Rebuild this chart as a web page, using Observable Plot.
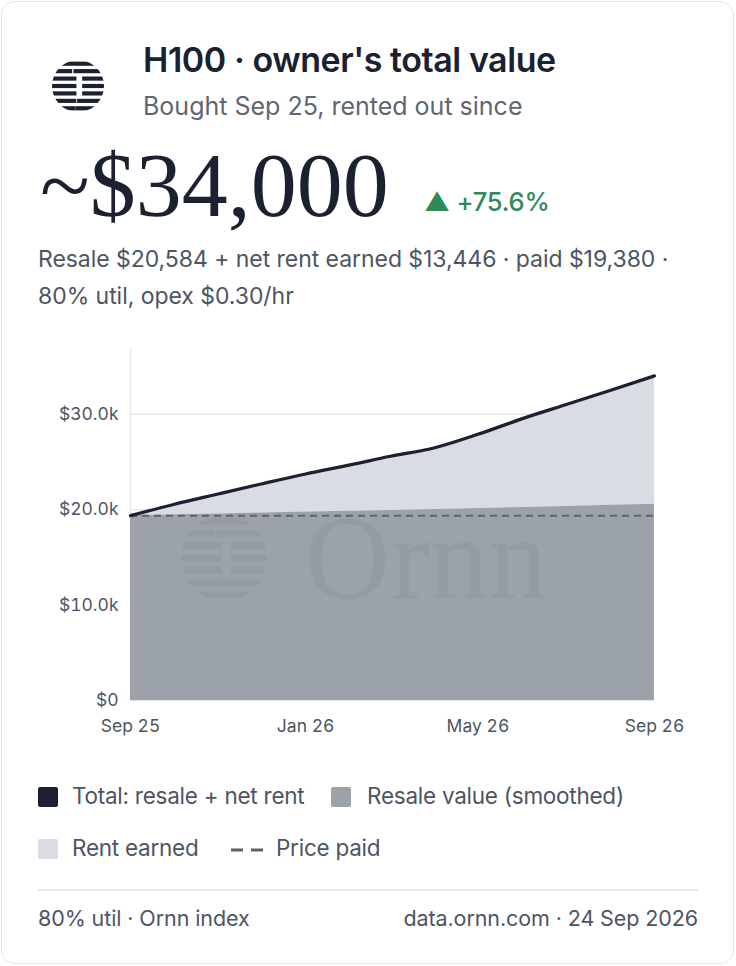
<!DOCTYPE html>
<html>
<head>
<meta charset="utf-8">
<script src="https://cdn.jsdelivr.net/npm/d3@7"></script>
<script src="https://cdn.jsdelivr.net/npm/@observablehq/plot@0.6"></script>
<style>
  html, body { margin: 0; padding: 0; background: #fff; }
  body { width: 736px; height: 966px; position: relative; overflow: hidden; font-family: Inter, "Noto Sans", sans-serif; }
  .card { position: absolute; left: 1px; top: 1px; width: 731px; height: 961px; border: 1.5px solid #e3e5ea; border-radius: 14px; box-sizing: content-box; }
  .abs { position: absolute; white-space: nowrap; }
  #logo { left: 50px; top: 58px; }
  #title { left: 143px; top: 39px; font-size: 34px; font-weight: 600; color: #1b2130; letter-spacing: -0.45px; }
  #subtitle { left: 143px; top: 91px; font-size: 25px; color: #5f6672; letter-spacing: 0px; }
  #big { left: 40px; top: 135px; font-family: "Liberation Serif", "DejaVu Serif", serif; font-size: 92px; color: #1b2130; line-height: 1.1; }
  #delta { left: 424px; top: 186px; font-size: 25.5px; color: #2f8a57; font-weight: 500; letter-spacing: -0.2px; }
  #detail { left: 38px; top: 241px; font-size: 23px; line-height: 37px; color: #4d5562; letter-spacing: -0.05px; }
  #chart { left: 0; top: 330px; }
  #wm { left: 0; top: 330px; width: 736px; height: 410px; pointer-events: none; }
  .legend { font-size: 22.5px; color: #4d5562; letter-spacing: -0.25px; }
  .sw { position: absolute; width: 20px; height: 20px; border-radius: 2px; }
  #rule { left: 38px; top: 889px; width: 660px; height: 2px; background: #e5e7eb; }
  .foot { top: 905px; font-size: 21.5px; color: #4d5562; letter-spacing: -0.1px; }
</style>
</head>
<body>
<div class="card"></div>

<svg id="logo" class="abs" width="56" height="56" viewBox="0 0 56 56"></svg>
<div id="title" class="abs">H100 · owner's total value</div>
<div id="subtitle" class="abs">Bought Sep 25, rented out since</div>
<div id="big" class="abs">~$34,000</div>
<div id="delta" class="abs">▲ +75.6%</div>
<div id="detail" class="abs">Resale $20,584 + net rent earned $13,446 · paid $19,380 ·<br>80% util, opex $0.30/hr</div>

<div id="chart" class="abs"></div>

<div class="sw" style="left:38px;top:787px;background:#1b2130"></div>
<div class="abs legend" style="left:72px;top:782px">Total: resale + net rent</div>
<div class="sw" style="left:331px;top:787px;background:#9ca2aa"></div>
<div class="abs legend" style="left:367px;top:782px">Resale value (smoothed)</div>
<div class="sw" style="left:38px;top:839px;background:#d9dce3"></div>
<div class="abs legend" style="left:72px;top:834px">Rent earned</div>
<svg class="abs" style="left:230px;top:840px" width="36" height="20"><line x1="1" y1="10" x2="33" y2="10" stroke="#5b626d" stroke-width="3" stroke-dasharray="12,8"/></svg>
<div class="abs legend" style="left:276px;top:834px">Price paid</div>

<div id="rule" class="abs"></div>
<div class="abs foot" style="left:38px">80% util · Ornn index</div>
<div class="abs foot" style="right:38px">data.ornn.com · 24 Sep 2026</div>

<script>
// ---- data ----
const months = ["2025-09-24","2025-10-24","2025-11-24","2025-12-24","2026-01-24","2026-02-24","2026-03-24","2026-04-24","2026-05-24","2026-06-24","2026-07-24","2026-08-24","2026-09-24"];
const totalValue = [19380, 20550, 21650, 22700, 23750, 24700, 25600, 26500, 27900, 29550, 31000, 32500, 34030];
const resaleValue = [19380, 19470, 19560, 19660, 19750, 19840, 19930, 20030, 20130, 20230, 20340, 20460, 20584];
const pricePaid = 19380;
const xTicks = ["2025-09-24","2026-01-24","2026-05-24","2026-09-24"];
const yTicks = [0, 10000, 20000, 30000];
const yMax = 36900;

const data = months.map((m, i) => ({date: new Date(m), total: totalValue[i], resale: resaleValue[i]}));

const fmtY = v => v === 0 ? "$0" : "$" + (v / 1000).toFixed(1) + "k";

const plot = Plot.plot({
  width: 736,
  height: 410,
  marginLeft: 130,
  marginRight: 82,
  marginTop: 18,
  marginBottom: 40,
  style: {fontFamily: "Inter, 'Noto Sans', sans-serif", fontSize: "17.5px", color: "#4d5562", background: "transparent"},
  x: {type: "utc", domain: [new Date(months[0]), new Date(months[months.length - 1])]},
  y: {domain: [0, yMax]},
  marks: [
    Plot.gridY(yTicks, {stroke: "#e5e7eb", strokeOpacity: 1, strokeWidth: 1.5}),
    Plot.ruleX([new Date(months[0])], {stroke: "#e5e7eb", strokeWidth: 1.5}),
    Plot.areaY(data, {x: "date", y1: "resale", y2: "total", fill: "#d9dce3"}),
    Plot.areaY(data, {x: "date", y1: 0, y2: "resale", fill: "#9ca2aa"}),
    Plot.ruleY([pricePaid], {stroke: "#5b626d", strokeWidth: 2, strokeDasharray: "7,5"}),
    Plot.lineY(data, {x: "date", y: "total", stroke: "#1b2130", strokeWidth: 3.2, strokeLinejoin: "round", strokeLinecap: "round", curve: "monotone-x"}),
    Plot.axisY(yTicks, {tickSize: 0, tickPadding: 12, tickFormat: fmtY, fontSize: 17.5, fill: "#4d5562", style: {letterSpacing: "-0.4px"}}),
    Plot.axisX(xTicks.map(d => new Date(d)), {tickSize: 0, tickPadding: 19, tickFormat: d3.utcFormat("%b %y"), fontSize: 17.5, fill: "#4d5562"})
  ]
});
document.getElementById("chart").appendChild(plot);

// ---- logos (decorative) ----
function drawLogo(svg, cx, cy, r, color, opacity) {
  const ns = "http://www.w3.org/2000/svg";
  const id = "clip" + Math.round(cx) + Math.round(cy);
  const defs = document.createElementNS(ns, "defs");
  const cp = document.createElementNS(ns, "clipPath");
  cp.setAttribute("id", id);
  const c = document.createElementNS(ns, "circle");
  c.setAttribute("cx", cx); c.setAttribute("cy", cy); c.setAttribute("r", r);
  cp.appendChild(c); defs.appendChild(cp); svg.appendChild(defs);
  const g = document.createElementNS(ns, "g");
  g.setAttribute("clip-path", `url(#${id})`);
  g.setAttribute("fill", color);
  g.setAttribute("opacity", opacity);
  const rows = 7;
  const step = (2 * r) / rows;
  const splits = [-0.35, -0.2, 0.05, 0.05, 0.05, -0.05, -0.1];
  const gaps = [0, 0.05, 0.22, 0.22, 0.22, 0.03, 0];
  for (let i = 0; i < rows; i++) {
    const y = cy - r + i * step + step * 0.22;
    const h = step * 0.56;
    const sx = cx + splits[i] * r;
    const gap = gaps[i] * r;
    const a = document.createElementNS(ns, "rect");
    a.setAttribute("x", cx - r); a.setAttribute("y", y);
    a.setAttribute("width", Math.max(0, sx - gap / 2 - (cx - r))); a.setAttribute("height", h);
    g.appendChild(a);
    const b = document.createElementNS(ns, "rect");
    b.setAttribute("x", sx + gap / 2); b.setAttribute("y", y);
    b.setAttribute("width", Math.max(0, cx + r - (sx + gap / 2))); b.setAttribute("height", h);
    g.appendChild(b);
  }
  svg.appendChild(g);
}
drawLogo(document.getElementById("logo"), 28, 28, 26, "#1b2130", 1);

// watermark overlay inside chart
const wm = document.createElementNS("http://www.w3.org/2000/svg", "svg");
wm.setAttribute("id", "wm"); wm.setAttribute("class", "abs");
wm.setAttribute("width", 736); wm.setAttribute("height", 410);
document.body.appendChild(wm);
drawLogo(wm, 224, 228, 43, "#5b626d", 0.11);
const t = document.createElementNS("http://www.w3.org/2000/svg", "text");
t.setAttribute("x", 305); t.setAttribute("y", 268);
t.setAttribute("font-family", "'Liberation Serif', serif");
t.setAttribute("font-size", 118);
t.setAttribute("fill", "#5b626d"); t.setAttribute("fill-opacity", 0.11);
t.textContent = "Ornn";
wm.appendChild(t);
</script>
</body>
</html>
